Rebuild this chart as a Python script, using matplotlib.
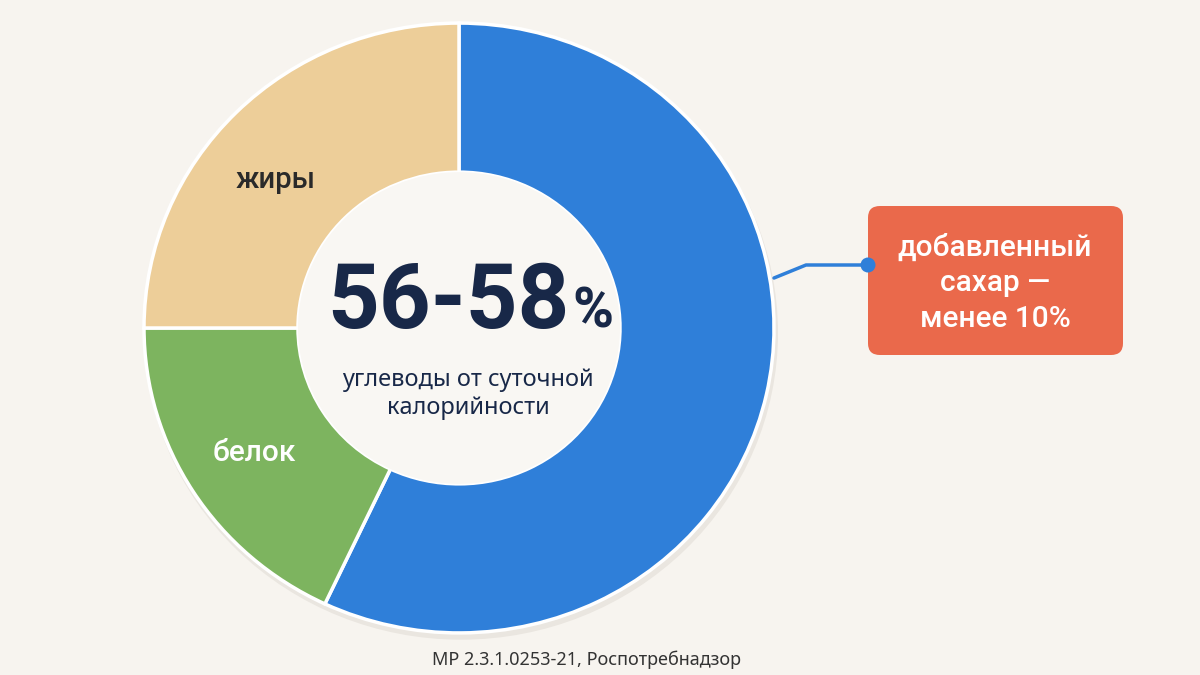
import matplotlib
matplotlib.use("Agg")
import matplotlib.pyplot as plt
from matplotlib.patches import Ellipse, FancyBboxPatch

plt.rcParams['font.family'] = ['Noto Sans', 'DejaVu Sans']

categories = ["углеводы", "белок", "жиры"]
values = [57, 18, 25]
colors = ["#2F7FD9", "#7DB45F", "#EDCE99"]
label_texts = ["", "белок", "жиры"]
label_colors = ["white", "white", "#2A2A2A"]

headline = "56-58"
headline_pct = "%"
subtitle = "углеводы от суточной\nкалорийности"
callout = "добавленный\nсахар —\nменее 10%"
source = "МР 2.3.1.0253-21, Роспотребнадзор"

BG = "#F7F4EF"
NAVY = "#182848"
BLUE = colors[0]
MED = ['Roboto', 'Noto Sans', 'DejaVu Sans']

W, H = 1200, 675
SY = 0.968  # vertical squash of the reference image

fig = plt.figure(figsize=(12, 6.75), dpi=100, facecolor=BG)
ax = fig.add_axes([0, 0, 1, 1])


def Y(y_top):
    return (H - y_top) / SY


cx, cy = 459, Y(328)
R = 315
r_in = 161

ax.add_patch(Ellipse((cx + 2, cy - 5), 2 * R + 4, 2 * R + 4, facecolor="#EAE6E0",
                     edgecolor="none", zorder=0))

wedges, _ = ax.pie(values, colors=colors, startangle=90, counterclock=False,
                   center=(cx, cy), radius=R, frame=True,
                   wedgeprops=dict(width=R - r_in, edgecolor="white", linewidth=2.5))
ax.set_aspect('auto')
ax.set_xlim(0, W)
ax.set_ylim(0, H / SY)
ax.axis('off')
ax.add_patch(Ellipse((cx, cy), 2 * r_in, 2 * r_in, facecolor="#F9F7F3", edgecolor="none", zorder=1))

# segment labels
ax.text(276, Y(180), label_texts[2], color=label_colors[2], fontsize=21, fontweight='medium',
        family=MED, ha='center', va='center', zorder=3)
ax.text(254, Y(453), label_texts[1], color=label_colors[1], fontsize=21.5, fontweight='medium',
        family=MED, ha='center', va='center', zorder=3)

# headline
ax.text(570, Y(303), headline, color=NAVY, fontsize=65, fontweight='bold',
        family=['Roboto', 'DejaVu Sans'], ha='right', va='center', zorder=3)
ax.text(572, Y(313), headline_pct, color=NAVY, fontsize=40, fontweight='bold',
        family=['Roboto', 'DejaVu Sans'], ha='left', va='center', zorder=3)
ax.text(468, Y(394), subtitle, color=NAVY, fontsize=17, ha='center', va='center',
        linespacing=1.2, zorder=3)

# callout
box = FancyBboxPatch((868, Y(355)), 255, 149 / SY, boxstyle="round,pad=0,rounding_size=12",
                     facecolor="#EA694B", edgecolor="none", zorder=3)
ax.add_patch(box)
ax.text(995, Y(283), callout, color="white", fontsize=21.5, fontweight='medium',
        family=MED, ha='center', va='center', linespacing=1.35, zorder=4)
ax.plot([774, 806, 868], [Y(278), Y(265), Y(265)], color=BLUE, lw=2.5,
        solid_capstyle='round', zorder=4)
ax.add_patch(Ellipse((868, Y(265)), 15, 15 / SY, facecolor=BLUE, edgecolor="none", zorder=5))

ax.text(587, Y(660), source, color="#333333", fontsize=13, ha='center', va='center', zorder=3)

fig.savefig("out.png", dpi=100, facecolor=BG)
